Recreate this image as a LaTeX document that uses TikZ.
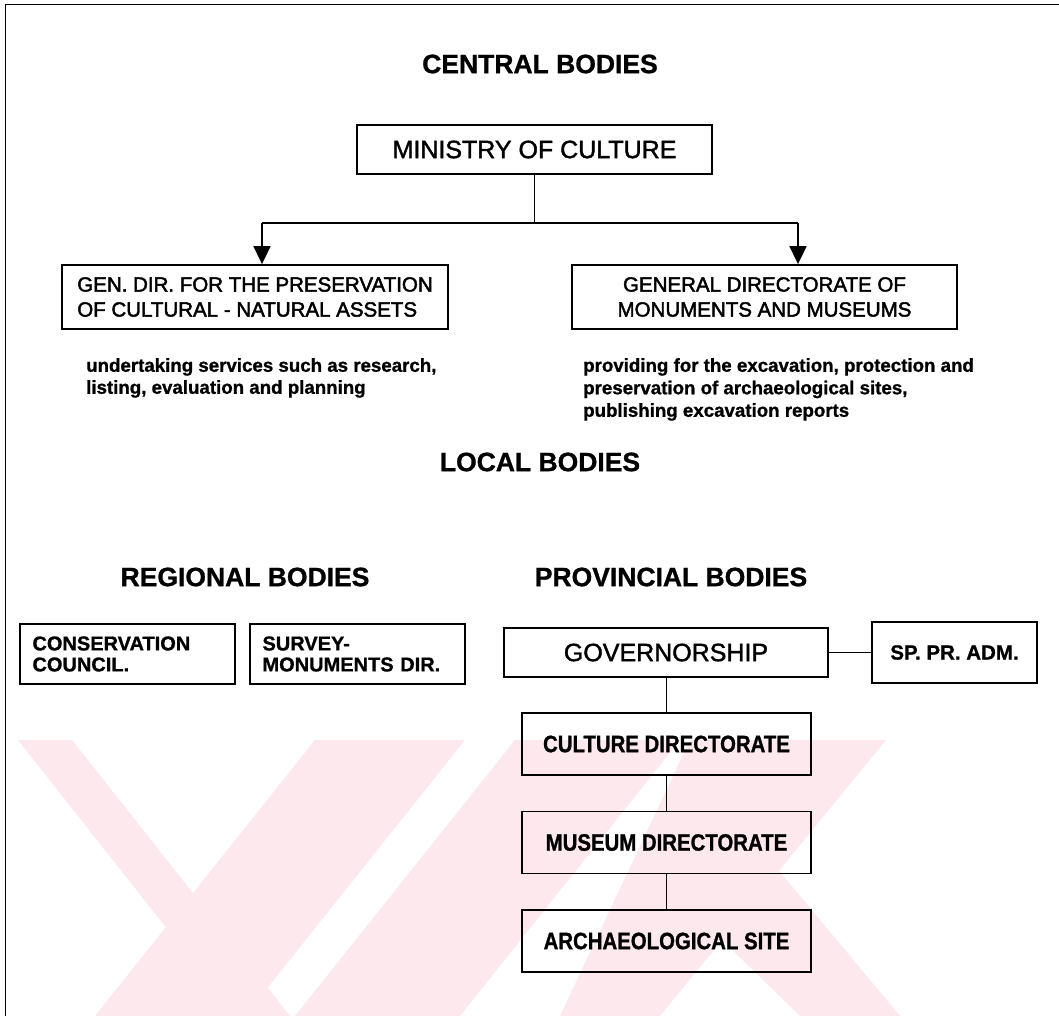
\documentclass[tikz,border=0pt]{standalone}
\usepackage{fontspec}
\setmainfont{Liberation Sans}
\newfontfamily\heavyfont[FakeBold=1.6]{Liberation Sans}
\newfontfamily\heavymid[FakeBold=2.2]{Liberation Sans}
\newfontfamily\heavybold[FakeBold=1.0]{Liberation Sans Bold}
\newfontfamily\narrowfont[FakeStretch=0.86,FakeBold=1.0]{Liberation Sans Bold}
\usetikzlibrary{arrows.meta}
\definecolor{wm}{RGB}{252,232,237}
\begin{document}
\begin{tikzpicture}[x=1pt,y=-1pt,
  box/.style={draw, line width=1.8pt, inner sep=0pt, align=center},
  title/.style={font=\fontsize{26.5}{30}\heavybold, inner sep=0pt},
  bigtxt/.style={font=\fontsize{25}{30}\heavyfont},
  midtxt/.style={font=\fontsize{20.5}{25}\heavymid},
  smallbold/.style={font=\fontsize{20}{21}\heavybold},
  desc/.style={font=\fontsize{18.7}{22}\heavybold, inner sep=0pt, align=left, anchor=north west},
  chain/.style={font=\fontsize{23.7}{28}\narrowfont},
  conn/.style={line width=1.7pt},
  arr/.style={line width=1.7pt, -{Triangle[length=18pt,width=17pt]}}]
\useasboundingbox (0,0) rectangle (1059,1016);
% watermark
\begin{scope}
\clip (0,740) rectangle (1059,1016);
\fill[wm] (18,740) -- (72,740) -- (290,1016) -- (236,1016) -- cycle;
\fill[wm] (315,740) -- (465,740) -- (245,1016) -- (95,1016) -- cycle;
\fill[wm] (515,740) -- (680,740) -- (460,1016) -- (295,1016) -- cycle;
\fill[wm] (690,740) -- (886,740) -- (660,1016) -- (560,1016) -- cycle;
\fill[wm] (640,860) -- (720,800) -- (900,1016) -- (800,1016) -- cycle;
\end{scope}
% frame
\draw[line width=1.8pt] (5.5,1016) -- (5.5,4.5) -- (1059,4.5);
% central bodies
\node[title] (tcentral) at (540,64) {CENTRAL BODIES};
\node[box, bigtxt, minimum width=355pt, minimum height=49pt] (min) at (534.5,149.5) {MINISTRY OF CULTURE};
\node[box, midtxt, align=left, minimum width=386pt, minimum height=64pt] (gd1) at (255,297)
  {GEN. DIR. FOR THE PRESERVATION\\OF CULTURAL - NATURAL ASSETS};
\node[box, midtxt, minimum width=385pt, minimum height=64pt] (gd2) at (764.5,297)
  {GENERAL DIRECTORATE OF\\MONUMENTS AND MUSEUMS};
\coordinate (jc) at (min.south |- 0,223);
\coordinate (jl) at (262,223);
\coordinate (jr) at (798,223);
\draw[conn] (min.south) -- (jc);
\draw[conn] (jl) -- (jr);
\draw[arr] (jl) -- (jl |- gd1.north);
\draw[arr] (jr) -- (jr |- gd2.north);
\node[desc] (d1) at (86,358) {undertaking services such as research,\\listing, evaluation and planning};
\node[desc, font=\fontsize{18.7}{22.5}\heavybold] (d2) at (583,358) {providing for the excavation, protection and\\preservation of archaeological sites,\\publishing excavation reports};
% local bodies
\node[title] (tlocal) at (540,462) {LOCAL BODIES};
\node[title] (treg) at (245,577) {REGIONAL BODIES};
\node[title] (tprov) at (671,577) {PROVINCIAL BODIES};
\node[box, smallbold, align=left, text width=190pt, minimum width=215pt, minimum height=60pt] (cons) at (127.5,654) {CONSERVATION\\COUNCIL.};
\node[box, smallbold, align=left, text width=190pt, minimum width=215pt, minimum height=60pt] (surv) at (357.5,654) {SURVEY-\\MONUMENTS DIR.};
\node[box, bigtxt, minimum width=324pt, minimum height=49pt] (gov) at (666,652.5) {GOVERNORSHIP};
\node[box, font=\fontsize{20.5}{24}\heavybold, minimum width=165pt, minimum height=61pt] (sp) at (954.5,652.5) {SP. PR. ADM.};
\draw[conn] (gov.east) -- (gov.east -| sp.west);
\node[box, chain, minimum width=289pt, minimum height=62pt] (cult) at (666.5,744) {CULTURE DIRECTORATE};
\node[box, chain, minimum width=289pt, minimum height=62pt] (mus) at (666.5,842.5) {MUSEUM DIRECTORATE};
\node[box, chain, minimum width=289pt, minimum height=62pt] (arch) at (666.5,941) {ARCHAEOLOGICAL SITE};
\draw[conn] (gov.south -| cult.north) -- (cult.north);
\draw[conn] (cult.south) -- (mus.north);
\draw[conn] (mus.south) -- (arch.north);
\end{tikzpicture}
\end{document}
